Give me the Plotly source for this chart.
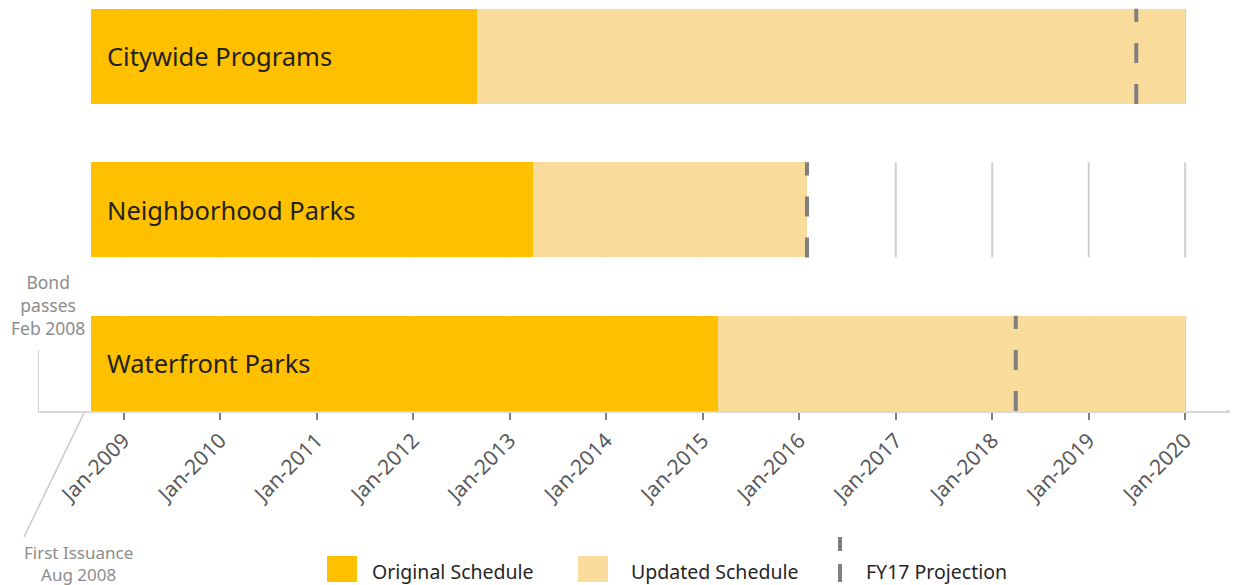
import plotly.graph_objects as go
import pandas as pd

# ---------------- data ----------------
categories = ["Waterfront Parks", "Neighborhood Parks", "Citywide Programs"]
start_dates = ["2008-09-01", "2008-09-01", "2008-09-01"]
original_end = ["2015-02-28", "2013-03-31", "2012-08-31"]
updated_end = ["2020-01-01", "2016-01-31", "2020-01-01"]
fy17_projection = ["2018-03-31", "2016-01-31", "2019-06-30"]
tick_years = list(range(2009, 2021))
tick_labels = [f"Jan-{y}" for y in tick_years]
bond_passes = "2008-02-12"
first_issuance = "2008-08-01"
axis_end = "2020-07-19"

# ---------------- styles ----------------
ORANGE = "#FFC000"
LIGHT = "#F9DC9C"
DASH_GREY = "#7F7F7F"
GRID = "#D0D0D0"
AXIS = "#D9D9D9"
FONT = "Noto Sans"
BAR_W = 0.62
HALF = BAR_W / 2

# page offset (body margin) and plot-area geometry in screen pixels
OFF = 8
L, R, T, B = 38, 1238, 8, 411
W, H = 1238, 585
def px(p):
    return (p - L) / (R - L)
def py(p):
    return (B - p) / (B - T)

rows = list(range(len(categories)))
to_ts = lambda s: pd.Timestamp(s)
ms = lambda a, b: (to_ts(b) - to_ts(a)).total_seconds() * 1000

fig = go.Figure()

fig.add_trace(go.Bar(
    y=rows, x=[ms(s, e) for s, e in zip(start_dates, original_end)],
    base=start_dates, orientation="h", width=BAR_W,
    marker=dict(color=ORANGE, line=dict(width=0)),
    name="Original Schedule", showlegend=False, hoverinfo="skip"))

fig.add_trace(go.Bar(
    y=rows, x=[ms(s, e) for s, e in zip(original_end, updated_end)],
    base=original_end, orientation="h", width=BAR_W,
    marker=dict(color=LIGHT, line=dict(width=0)),
    name="Updated Schedule", showlegend=False, hoverinfo="skip"))

for i, d in zip(rows, fy17_projection):
    fig.add_trace(go.Scatter(
        x=[d, d], y=[i - HALF, i + HALF], mode="lines",
        line=dict(color=DASH_GREY, width=4, dash="20px,21px"),
        name="FY17 Projection", showlegend=False, hoverinfo="skip"))

shapes = []
# gridlines only inside each bar band
for i in rows:
    for y in tick_years:
        shapes.append(dict(type="line", xref="x", yref="y", layer="below",
                           x0=f"{y}-01-01", x1=f"{y}-01-01",
                           y0=i - HALF, y1=i + HALF,
                           line=dict(color=GRID, width=2)))

# axis baseline continues to the right edge of the page
shapes.append(dict(type="line", xref="paper", yref="paper",
                   x0=0.99, x1=1.03, y0=0, y1=0,
                   line=dict(color=AXIS, width=2)))

# Bond passes leader line
shapes.append(dict(type="line", xref="x", yref="paper",
                   x0=bond_passes, x1=bond_passes, y0=0, y1=py(350),
                   line=dict(color="#D0D0D0", width=2)))
# First issuance leader line
shapes.append(dict(type="line", xref="paper", yref="paper",
                   x0=px(84), y0=py(413), x1=px(24), y1=py(537),
                   line=dict(color="#C8C8C8", width=1.5)))

# manual legend swatches
shapes.append(dict(type="rect", xref="paper", yref="paper",
                   x0=px(327), x1=px(357), y0=py(582), y1=py(556),
                   fillcolor=ORANGE, line=dict(width=0)))
shapes.append(dict(type="rect", xref="paper", yref="paper",
                   x0=px(578), x1=px(608), y0=py(582), y1=py(556),
                   fillcolor=LIGHT, line=dict(width=0)))
shapes.append(dict(type="line", xref="paper", yref="paper",
                   x0=px(840), x1=px(840), y0=py(582), y1=py(537),
                   line=dict(color=DASH_GREY, width=4, dash="18px,13px")))

annotations = []
for i, c, s in zip(rows, categories, start_dates):
    annotations.append(dict(x=s, y=i, xref="x", yref="y", text=c,
                            showarrow=False, xanchor="left", yanchor="middle",
                            xshift=14, font=dict(family=FONT, size=25.5, color="#222222")))

annotations.append(dict(x=px(48), y=py(305), xref="paper", yref="paper",
                        text="Bond<br>passes<br>Feb 2008", showarrow=False,
                        xanchor="center", yanchor="middle", align="center",
                        font=dict(family=FONT, size=17.5, color="#8C8C8C")))
annotations.append(dict(x=px(78), y=py(563), xref="paper", yref="paper",
                        text="First Issuance<br>Aug 2008", showarrow=False,
                        xanchor="center", yanchor="middle", align="center",
                        font=dict(family=FONT, size=17, color="#8C8C8C")))

for xl, t in [(370, "Original Schedule"), (629, "Updated Schedule"), (864, "FY17 Projection")]:
    annotations.append(dict(x=px(xl), y=py(571), xref="paper", yref="paper",
                            text=t, showarrow=False, xanchor="left", yanchor="middle",
                            font=dict(family=FONT, size=19.5, color="#262626")))

fig.update_layout(
    width=W, height=H,
    margin=dict(l=L - OFF, r=W - (R - OFF), t=T - OFF, b=H - (B - OFF)),
    paper_bgcolor="white", plot_bgcolor="white",
    barmode="overlay", bargap=0,
    showlegend=False,
    shapes=shapes, annotations=annotations,
    font=dict(family=FONT),
    xaxis=dict(type="date", range=[bond_passes, axis_end],
               tickvals=[f"{y}-01-01" for y in tick_years], ticktext=tick_labels,
               tickangle=-45, ticks="outside", ticklen=7, tickwidth=2,
               tickcolor="#808080",
               tickfont=dict(family=FONT, size=21, color="#595959"),
               showline=True, linecolor=AXIS, linewidth=2,
               showgrid=False, zeroline=False, fixedrange=True),
    yaxis=dict(range=[-HALF, 2 + HALF + 0.005], visible=False,
               showgrid=False, zeroline=False, fixedrange=True),
)

fig.write_html("out.html")
